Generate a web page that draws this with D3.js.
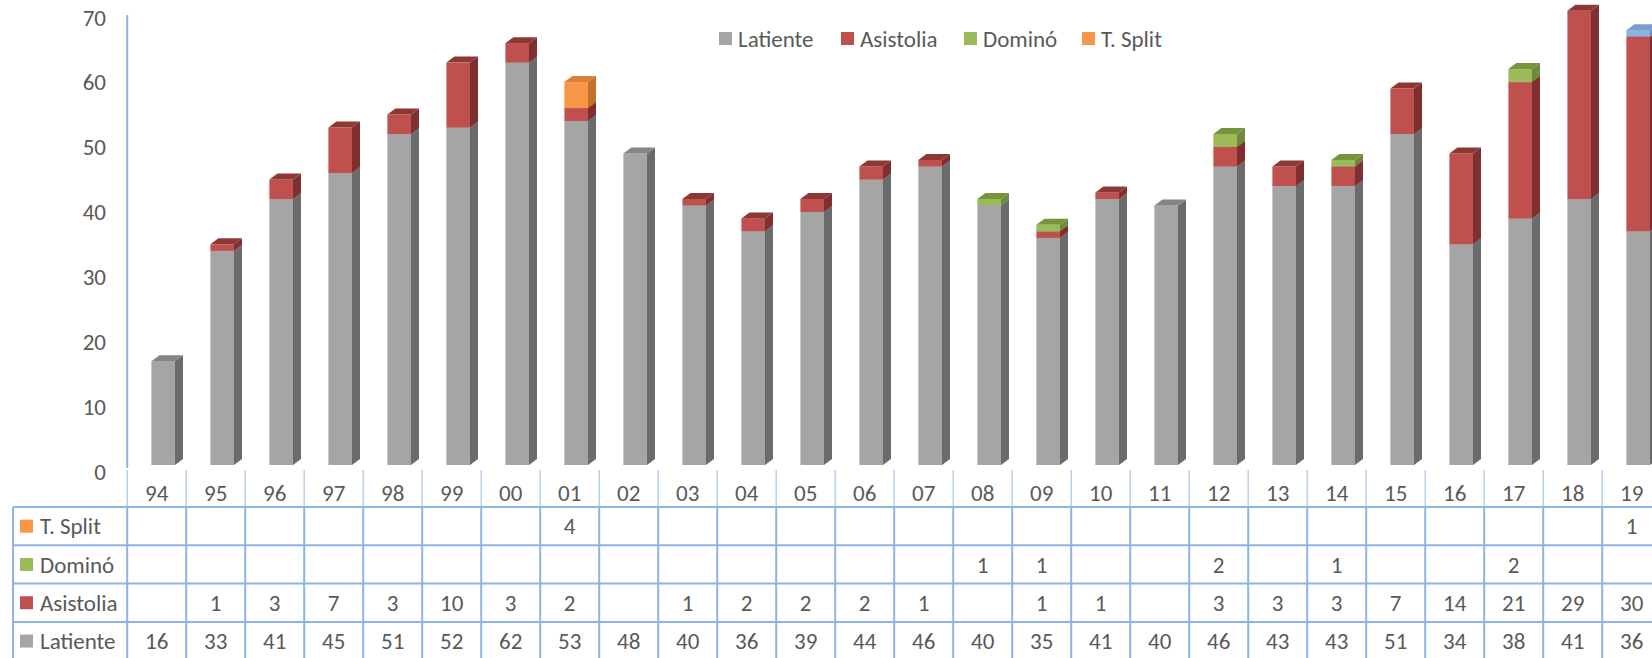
<!DOCTYPE html>
<meta charset="utf-8">
<script src="https://d3js.org/d3.v7.min.js"></script>
<style>
  body { margin: 0; background: #fff; }
  text { font-family: Calibri, Carlito, Lato, sans-serif; fill: #595959; }
</style>
<div id="chart"></div>
<script>
// data
var years = ["94","95","96","97","98","99","00","01","02","03","04","05","06","07","08","09","10","11","12","13","14","15","16","17","18","19"];
var latiente  = [16,33,41,45,51,52,62,53,48,40,36,39,44,46,40,35,41,40,46,43,43,51,34,38,41,36];
var asistolia = [null,1,3,7,3,10,3,2,null,1,2,2,2,1,null,1,1,null,3,3,3,7,14,21,29,30];
var domino    = [null,null,null,null,null,null,null,null,null,null,null,null,null,null,1,1,null,null,2,null,1,null,null,2,null,null];
var tsplit    = [null,null,null,null,null,null,null,4,null,null,null,null,null,null,null,null,null,null,null,null,null,null,null,null,null,1];
var seriesNames = ["Latiente", "Asistolia", "Dominó", "T. Split"];
var yTicks = [0,10,20,30,40,50,60,70];

var seriesValues = [latiente, asistolia, domino, tsplit];

// colours (front, side, top)
var shades = {
  "Latiente":  ["#A5A5A5", "#6B6B6B", "#858585"],
  "Asistolia": ["#C0504D", "#7D302F", "#8E3836"],
  "Dominó":    ["#9BBB59", "#71893F", "#77933C"],
  "T. Split":  ["#F79646", "#C4702D", "#DD7F34"]
};
// one point in the chart was coloured differently
var pointOverride = { "T. Split|19": ["#8DB3E2", "#6A8FBF", "#7A9ECB"] };

var W = 1652, H = 658;
var svg = d3.select("#chart").append("svg")
  .attr("width", W).attr("height", H);

var x = d3.scaleBand().domain(years).range([127.2, 127.2 + 59 * years.length]).padding(0);
var y = d3.scaleLinear().domain([0, 70]).range([465, 465 - 70 * 6.49]);

var bw = x.bandwidth() * 0.4, boff = x.bandwidth() * 0.41;
var dx = 8, dy = 6;
var fs = 23;

// y axis labels
var yAxis = svg.append("g")
  .attr("transform", "translate(106,7)")
  .call(d3.axisLeft(y).tickValues(yTicks).tickSize(0).tickPadding(0));
yAxis.select(".domain").remove();
yAxis.selectAll("text").style("font-size", fs + "px").attr("fill", "#595959")
  .style("font-family", "Calibri, Carlito, Lato, sans-serif");

// y axis line
svg.append("line")
  .attr("x1", 127.2).attr("x2", 127.2).attr("y1", 15).attr("y2", 468)
  .attr("stroke", "#8DB4E2").attr("stroke-width", 2);

// stacked data
var stacks = years.map(function(yr, i) {
  var base = 0, segs = [];
  seriesNames.forEach(function(name, s) {
    var v = seriesValues[s][i];
    if (v) {
      segs.push({ year: yr, name: name, y0: base, y1: base + v });
      base += v;
    }
  });
  return segs;
});

var bars = svg.append("g");
stacks.forEach(function(segs) {
  segs.forEach(function(d) {
    var c = pointOverride[d.name + "|" + d.year] || shades[d.name];
    var x0 = x(d.year) + boff, x1 = x0 + bw;
    var yt = y(d.y1), yb = y(d.y0);
    // front
    bars.append("rect")
      .attr("x", x0).attr("y", yt).attr("width", bw).attr("height", yb - yt)
      .attr("fill", c[0]);
    // side
    bars.append("path")
      .attr("d", "M" + x1 + "," + yb + "L" + (x1 + dx) + "," + (yb - dy) +
                 "L" + (x1 + dx) + "," + (yt - dy) + "L" + x1 + "," + yt + "Z")
      .attr("fill", c[1]);
    // top
    bars.append("path")
      .attr("d", "M" + x0 + "," + yt + "L" + x1 + "," + yt +
                 "L" + (x1 + dx) + "," + (yt - dy) + "L" + (x0 + dx) + "," + (yt - dy) + "Z")
      .attr("fill", c[2]);
  });
});

// legend at top
var legX = [719, 841, 964, 1082];
var leg = svg.append("g");
seriesNames.forEach(function(name, i) {
  leg.append("rect").attr("x", legX[i]).attr("y", 32).attr("width", 13).attr("height", 13)
    .attr("fill", shades[name][0]);
  leg.append("text").attr("x", legX[i] + 19).attr("y", 39).attr("dy", "0.35em")
    .style("font-size", fs + "px").text(name);
});

// data table
var lineCol = "#8DB4E2";
var tbl = svg.append("g");
var rowTop = 507, rowH = 38.3;
var tableRows = ["T. Split", "Dominó", "Asistolia", "Latiente"];
var tableLeft = 13, right = x.range()[1];

// category labels and light separators
years.forEach(function(yr) {
  tbl.append("text").attr("x", x(yr) + x.bandwidth() / 2).attr("y", 493).attr("dy", "0.35em")
    .attr("text-anchor", "middle").style("font-size", fs + "px").text(yr);
});
x.domain().concat(["end"]).forEach(function(yr, i) {
  var xx = i < years.length ? x(yr) : right;
  tbl.append("line").attr("x1", xx).attr("x2", xx).attr("y1", 470).attr("y2", rowTop)
    .attr("stroke", "#B8D0EE").attr("stroke-width", 1.5);
});

// grid lines
for (var r = 0; r <= tableRows.length; r++) {
  tbl.append("line").attr("x1", tableLeft).attr("x2", right)
    .attr("y1", rowTop + r * rowH).attr("y2", rowTop + r * rowH)
    .attr("stroke", lineCol).attr("stroke-width", 2);
}
[tableLeft].concat(years.map(function(yr) { return x(yr); })).concat([right]).forEach(function(xx) {
  tbl.append("line").attr("x1", xx).attr("x2", xx).attr("y1", rowTop).attr("y2", rowTop + tableRows.length * rowH)
    .attr("stroke", lineCol).attr("stroke-width", 2);
});

tableRows.forEach(function(name, r) {
  var cy = rowTop + r * rowH + rowH / 2;
  var vals = seriesValues[seriesNames.indexOf(name)];
  tbl.append("rect").attr("x", 20).attr("y", cy - 6.5).attr("width", 13).attr("height", 13)
    .attr("fill", shades[name][0]);
  tbl.append("text").attr("x", 40).attr("y", cy).attr("dy", "0.35em")
    .style("font-size", fs + "px").text(name);
  years.forEach(function(yr, i) {
    if (vals[i] == null) return;
    tbl.append("text").attr("x", x(yr) + x.bandwidth() / 2).attr("y", cy).attr("dy", "0.35em")
      .attr("text-anchor", "middle").style("font-size", fs + "px").text(vals[i]);
  });
});
</script>
